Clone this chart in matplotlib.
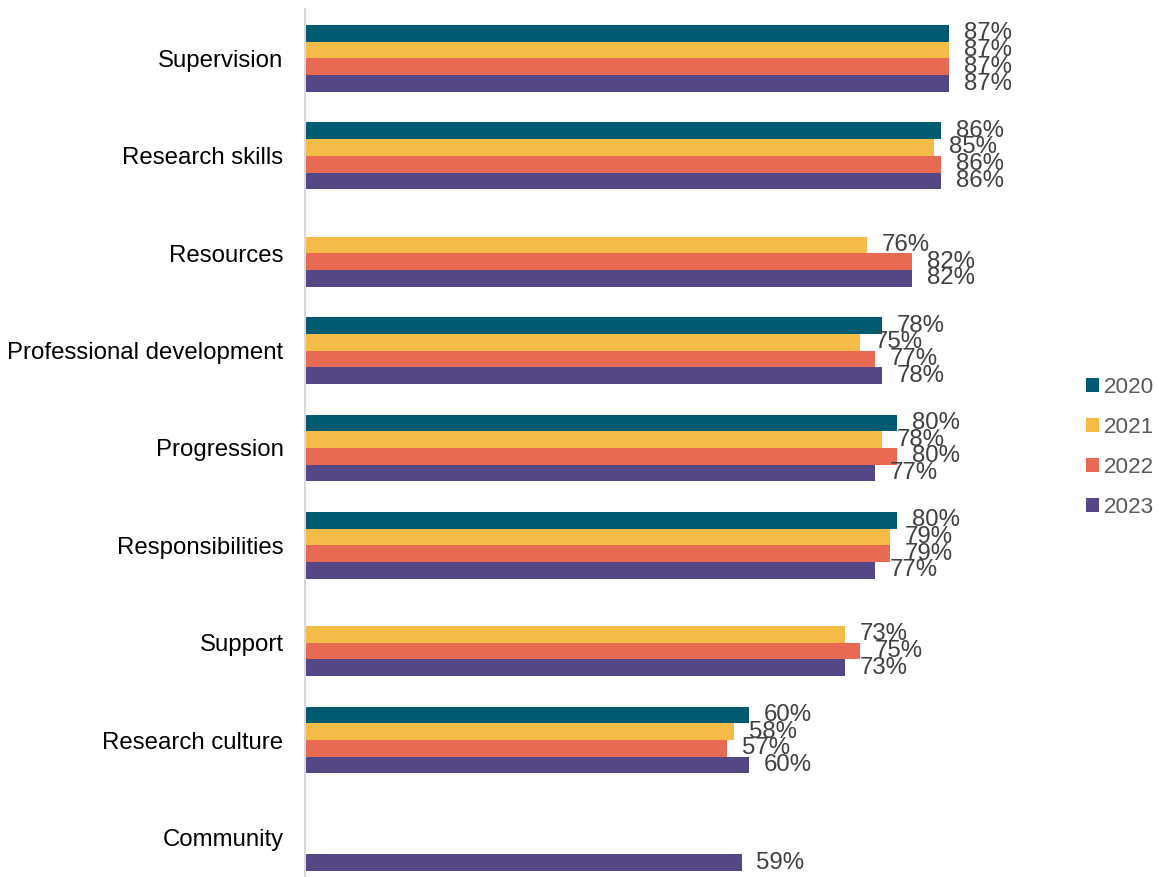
import numpy as np
import matplotlib.pyplot as plt
from matplotlib.patches import Patch

plt.rcParams['font.family'] = ['Liberation Sans', 'DejaVu Sans']

# -----------------------------
# DATA
# -----------------------------
categories = ["Supervision", "Research skills", "Resources", "Professional development",
              "Progression", "Responsibilities", "Support", "Research culture", "Community"]
years = ["2020", "2021", "2022", "2023"]

# % agreement per category, None = not asked that year
pct_2020 = [87, 86, None, 78, 80, 80, None, 60, None]
pct_2021 = [87, 85, 76, 75, 78, 79, 73, 58, None]
pct_2022 = [87, 86, 82, 77, 80, 79, 75, 57, None]
pct_2023 = [87, 86, 82, 78, 77, 77, 73, 60, 59]

series = [pct_2020, pct_2021, pct_2022, pct_2023]
colors = ["#005a70", "#f4bc47", "#e96a53", "#554785"]

# -----------------------------
# PLOT
# -----------------------------
W, H = 1159, 877
fig = plt.figure(figsize=(W / 100, H / 100), dpi=100)
ax = fig.add_axes([305 / W, 0, 740 / W, (877 - 9) / H])

y = np.arange(len(categories))
bar_h = 0.1715

for i, (vals, col) in enumerate(zip(series, colors)):
    offset = (i - 1.5) * bar_h
    for j, v in enumerate(vals):
        if v is None:
            continue
        ax.barh(y[j] + offset, v, height=bar_h, color=col, linewidth=0)
        ax.text(v + 2.0, y[j] + offset, f"{v}%", va="center", ha="left",
                fontsize=17.3, color="#404040")

ax.set_xlim(0, 100)
ax.set_ylim(8.406, -0.508)
ax.set_yticks(y)
ax.set_yticklabels(categories, fontsize=17.3, color="#000000")
ax.tick_params(axis="y", length=0, pad=15.5)
ax.set_xticks([])

for s in ["top", "right", "bottom"]:
    ax.spines[s].set_visible(False)
ax.spines["left"].set_color("#d9d9d9")
ax.spines["left"].set_linewidth(1.5)

handles = [Patch(facecolor=c, edgecolor="none") for c in colors]
fig.legend(handles, years, loc="center left",
           bbox_to_anchor=(1086 / W, 1 - 447.5 / H), frameon=False,
           fontsize=16.2, handlelength=0.58, handleheight=0.58,
           handletextpad=0.2, labelspacing=0.85, borderpad=0, borderaxespad=0,
           labelcolor="#595959")

fig.savefig("out.png", dpi=100)
